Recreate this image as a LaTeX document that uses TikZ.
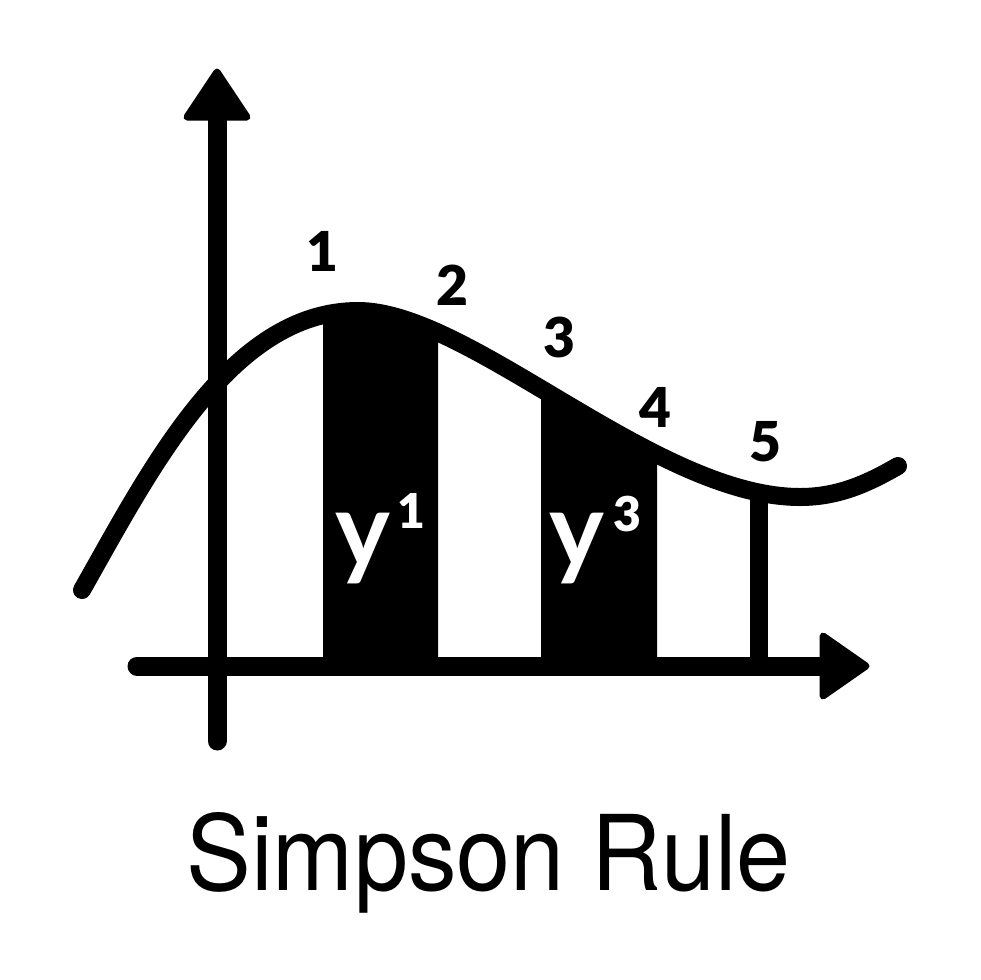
\documentclass[tikz,border=0pt]{standalone}
\usepackage{fontspec}
\setmainfont{Lato}
\IfFontExistsTF{Lato Black}{\newfontfamily\heavyfont{Lato Black}}{\newfontfamily\heavyfont{Lato}[UprightFont=*-Bold]}
\newfontfamily\titlefont[FakeStretch=0.93]{TeX Gyre Heros}
\begin{document}
\begin{tikzpicture}[x=1pt,y=-1pt,
  axisline/.style={line width=19pt,line cap=round},
  curveline/.style={line width=18pt,line cap=round,line join=round},
  headtri/.style={fill=black,draw=black,line width=7pt,line join=round},
  digitlab/.style={inner sep=0pt,font=\fontsize{55}{60}\selectfont\heavyfont},
  ylab/.style={inner sep=0pt,text=white,font=\fontsize{104}{110}\selectfont\bfseries},
  suplab/.style={inner sep=0pt,text=white,font=\fontsize{48}{52}\selectfont\heavyfont},
  titlelab/.style={inner sep=0pt,font=\fontsize{104.5}{110}\titlefont}]
\useasboundingbox[fill=white] (0,0) rectangle (980,980);
\def\curvepath{(82,590) .. controls (150,470) and (230,311) .. (358,311)
  .. controls (470,311) and (655,497) .. (800,497)
  .. controls (840,497) and (870,482) .. (898,466)}
% black strips under the curve
\begin{scope}
  \clip (323,666) rectangle (438,200);
  \fill \curvepath -- (898,666) -- (82,666) -- cycle;
\end{scope}
\begin{scope}
  \clip (541,666) rectangle (657,200);
  \fill \curvepath -- (898,666) -- (82,666) -- cycle;
\end{scope}
% axes
\coordinate (xs) at (137,666);
\coordinate (xe) at (826,666);
\coordinate (ys) at (217,741);
\coordinate (ye) at (217,116);
\draw[axisline] (xs) -- (xe);
\draw[axisline] (ys) -- (ye);
\draw[headtri] (217,72) -- (187,117) -- (247,117) -- cycle;
\draw[headtri] (866,666) -- (823,636) -- (823,696) -- cycle;
% vertical line at point 5
\coordinate (v5t) at (759,494);
\coordinate (v5b) at (759,666);
\draw[line width=18pt] (v5t) -- (v5b);
% curve
\draw[curveline] \curvepath;
% labels
\node[digitlab] (n1) at (322,251) {1};
\node[digitlab] (n2) at (452,285) {2};
\node[digitlab] (n3) at (559,337) {3};
\node[digitlab] (n4) at (655,407) {4};
\node[digitlab] (n5) at (765,442) {5};
\node[ylab,anchor=base] (y1) at (363,566) {y};
\node[suplab] (s1) at (411,511) {1};
\node[ylab,anchor=base] (y3) at (577,566) {y};
\node[suplab] (s3) at (627,514) {3};
\node[titlelab,anchor=base west] (title) at (186,890) {Simpson Rule};
\end{tikzpicture}
\end{document}
